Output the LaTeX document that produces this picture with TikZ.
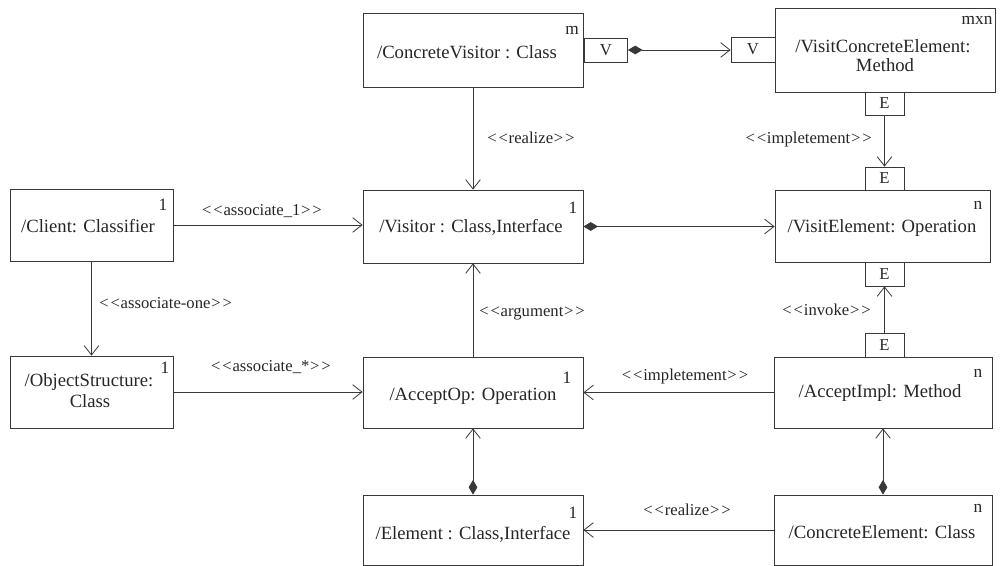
\documentclass[tikz,border=0pt]{standalone}
\usepackage{fontspec}
\setmainfont{Liberation Serif}
\usetikzlibrary{arrows.meta}
% stereotype brackets, kept apart so they are not turned into guillemets
\newcommand\stereo[1]{<\kern1.4pt<\kern0.6pt#1\kern0.6pt>\kern1.4pt>}
\begin{document}
\begin{tikzpicture}[x=0.75pt,y=-0.75pt,
  ink/.style={draw=black!78, line width=0.6pt},
  box/.style 2 args={ink, rectangle, minimum width=#1*0.75pt, minimum height=#2*0.75pt, inner sep=0pt},
  port/.style 2 args={box={#1}{#2}, font=\fontsize{12.5}{14}\selectfont, text=black!85},
  boxtext/.style={font=\fontsize{14}{16}\selectfont, text=black!85, inner sep=0pt, anchor=base},
  mult/.style={font=\fontsize{13}{15}\selectfont, text=black!85, inner sep=0pt},
  stlabel/.style={font=\fontsize{12.5}{14}\selectfont, text=black!85, inner sep=0pt, text height=8pt, text depth=2pt},
  open/.style={ink, -{Straight Barb[length=7pt,width=11pt]}},
  comp/.style={ink, {Diamond[length=11pt,width=6.5pt]}-{Straight Barb[length=7pt,width=11pt]}},
]
\useasboundingbox[fill=white] (0,0) rectangle (1000,566);

% class boxes
\node[box={220}{74}] (cv) at (473,50) {};
\node[box={220}{84}] (vce) at (885,50) {};
\node[box={163}{72}] (client) at (91.5,225) {};
\node[box={220}{73}] (visitor) at (473,226.5) {};
\node[box={215}{72}] (ve) at (882.5,226) {};
\node[box={163}{72}] (os) at (91.5,392) {};
\node[box={220}{71}] (acc) at (473,392.5) {};
\node[box={218}{71}] (ai) at (883,392.5) {};
\node[box={220}{70}] (el) at (473,530) {};
\node[box={218}{70}] (ce) at (883,530) {};

% ports
\node[port={43}{24}] (vp1) at (606,50) {V};
\node[port={44}{25}] (vp2) at (753,49.5) {V};
\node[port={39}{23}] (e1) at (884.5,103.5) {E};
\node[port={39}{23}] (e2) at (884.5,178.5) {E};
\node[port={39}{24}] (e3) at (884.5,274) {E};
\node[port={39}{24}] (e4) at (884.5,345) {E};

% box names
\node[boxtext] (cvt) at (467,59) {/ConcreteVisitor : Class};
\node[boxtext] (vcet1) at (883,53) {/VisitConcreteElement:};
\node[boxtext] (vcet2) at (885,72) {Method};
\node[boxtext] (clientt) at (88,233) {/Client: Classifier};
\node[boxtext] (visitort) at (471,233) {/Visitor : Class,Interface};
\node[boxtext] (vet) at (882,233) {/VisitElement: Operation};
\node[boxtext] (ost1) at (89,387) {/ObjectStructure:};
\node[boxtext] (ost2) at (90,408) {Class};
\node[boxtext] (acct) at (473,401) {/AcceptOp: Operation};
\node[boxtext] (ait) at (880,398) {/AcceptImpl: Method};
\node[boxtext] (elt) at (473,539) {/Element : Class,Interface};
\node[boxtext] (cet) at (882,538) {/ConcreteElement: Class};

% multiplicities
\node[mult] (cvm) at (572,30) {m};
\node[mult] (vcem) at (977,20) {mxn};
\node[mult] (clientm) at (163,205) {1};
\node[mult] (visitorm) at (573,208) {1};
\node[mult] (vem) at (978,205) {n};
\node[mult] (osm) at (165,368) {1};
\node[mult] (accm) at (567,378) {1};
\node[mult] (aim) at (978,373) {n};
\node[mult] (elm) at (573,513) {1};
\node[mult] (cem) at (978,508) {n};

% connectors
\draw[open] (cv.south) -- (visitor.north);
\draw[open] (client.east) -- (client.east -| visitor.west);
\draw[open] (client.south) -- (os.north);
\draw[open] (os.east) -- (os.east -| acc.west);
\draw[open] (acc.north) -- (visitor.south);
\draw[comp] (visitor.east) -- (visitor.east -| ve.west);
\draw[comp] (vp1.east) -- (vp1.east -| vp2.west);
\draw[open] (e1.south) -- (e2.north);
\draw[open] (e4.north) -- (e3.south);
\draw[open] (ai.west) -- (ai.west -| acc.east);
\draw[comp] (el.north) -- (acc.south);
\draw[comp] (ce.north) -- (ce.north |- ai.south);
\draw[open] (ce.west) -- (ce.west -| el.east);

% stereotypes
\node[stlabel, anchor=west] (lrealize1) at (487,140) {\stereo{realize}};
\node[stlabel] (lassoc1) at (262,212) {\stereo{associate\_1}};
\node[stlabel, anchor=west] (lassocone) at (99,305) {\stereo{associate-one}};
\node[stlabel] (lassocstar) at (271,368) {\stereo{associate\_*}};
\node[stlabel, anchor=west] (largument) at (479,313) {\stereo{argument}};
\node[stlabel, anchor=east] (limpl1) at (872,140) {\stereo{impletement}};
\node[stlabel, anchor=east] (linvoke) at (871,312) {\stereo{invoke}};
\node[stlabel] (limpl2) at (685,377) {\stereo{impletement}};
\node[stlabel] (lrealize2) at (687,512) {\stereo{realize}};
\end{tikzpicture}
\end{document}
